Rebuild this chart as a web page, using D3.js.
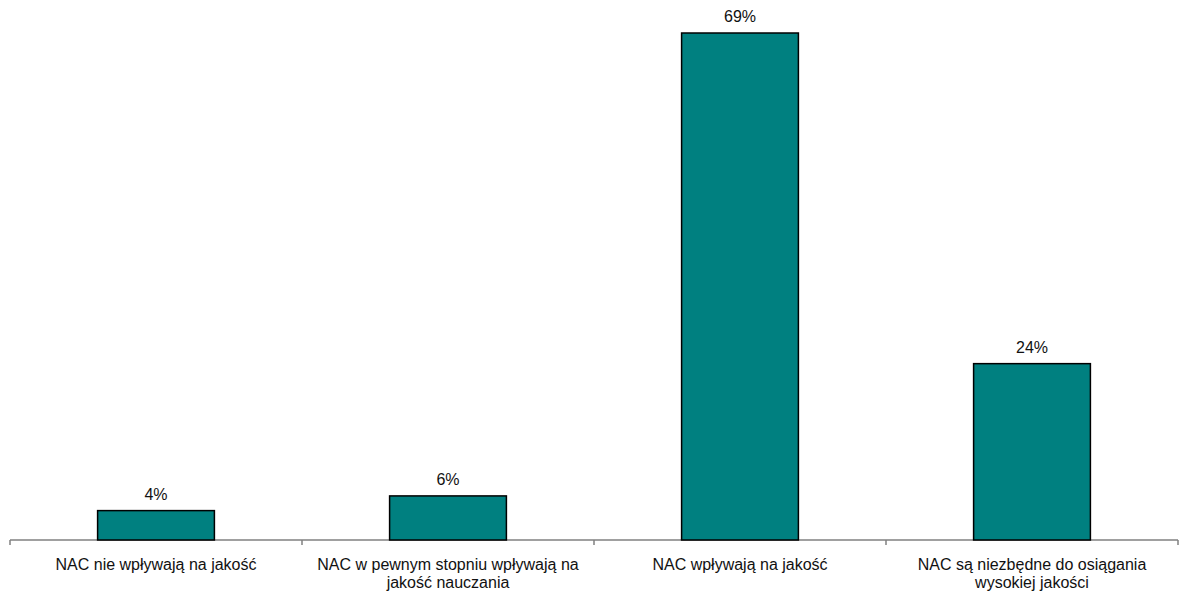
<!DOCTYPE html>
<html>
<head>
<meta charset="utf-8">
<script src="https://cdn.jsdelivr.net/npm/d3@7"></script>
<style>
  html, body { margin: 0; padding: 0; background: #fff; }
  svg { display: block; }
  text { font-family: "Liberation Sans", Arial, sans-serif; fill: #111; }
</style>
</head>
<body>
<svg id="chart" width="1180" height="595"></svg>
<script>
const categories = [
  ["NAC nie wpływają na jakość"],
  ["NAC w pewnym stopniu wpływają na", "jakość nauczania"],
  ["NAC wpływają na jakość"],
  ["NAC są niezbędne do osiągania", "wysokiej jakości"]
];
const values = [4, 6, 69, 24];
const valueLabels = ["4%", "6%", "69%", "24%"];

const svg = d3.select("#chart");
const keys = categories.map((c, i) => i);

const x = d3.scaleBand().domain(keys).range([10, 1178]).paddingInner(0.6).paddingOuter(0.3);
const y = d3.scaleLinear().domain([0, 69]).range([540, 33]);

const step = x.step();
// axis line and ticks at category boundaries
svg.append("line").attr("x1", 10).attr("x2", 1178).attr("y1", y(0)).attr("y2", y(0))
  .attr("stroke", "#808080").attr("stroke-width", 1.5);
const bounds = d3.range(categories.length + 1).map(i => 10 + i * step);
svg.selectAll(".tick").data(bounds).enter().append("line")
  .attr("x1", d => d).attr("x2", d => d)
  .attr("y1", y(0)).attr("y2", y(0) + 5)
  .attr("stroke", "#808080").attr("stroke-width", 1.5);

// bars
svg.selectAll(".bar").data(values).enter().append("rect")
  .attr("x", (d, i) => x(i))
  .attr("y", d => y(d))
  .attr("width", x.bandwidth())
  .attr("height", d => y(0) - y(d))
  .attr("fill", "#008080")
  .attr("stroke", "#000")
  .attr("stroke-width", 1.5);

// value labels
svg.selectAll(".vl").data(values).enter().append("text")
  .attr("x", (d, i) => x(i) + x.bandwidth() / 2)
  .attr("y", d => y(d) - 11)
  .attr("text-anchor", "middle")
  .style("font-size", "16px")
  .text((d, i) => valueLabels[i]);

// category labels
categories.forEach((lines, i) => {
  const t = svg.append("text")
    .attr("x", x(i) + x.bandwidth() / 2)
    .attr("y", 570)
    .attr("text-anchor", "middle")
    .style("font-size", "16px");
  lines.forEach((ln, j) => {
    t.append("tspan").attr("x", x(i) + x.bandwidth() / 2).attr("dy", j === 0 ? 0 : 18).text(ln);
  });
});
</script>
</body>
</html>
